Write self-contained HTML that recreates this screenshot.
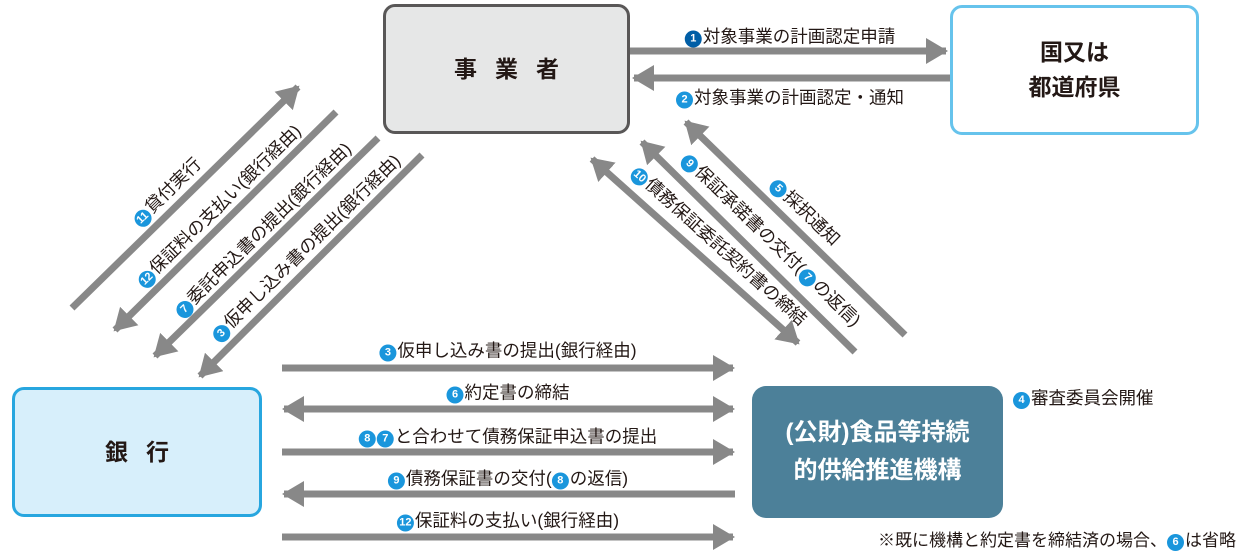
<!DOCTYPE html>
<html><head><meta charset="utf-8"><style>
body{margin:0;width:1256px;height:559px;background:#fff;position:relative;overflow:hidden;font-family:"Liberation Sans","Noto Sans CJK JP",sans-serif;color:#231815}
.box{position:absolute;box-sizing:border-box;border-radius:12px;display:flex;align-items:center;justify-content:center;text-align:center;font-weight:bold;font-size:23px;line-height:35px}
.lbl{position:absolute;font-size:17.5px;white-space:nowrap;line-height:20px}
.c{display:inline-block;width:17px;height:17px;border-radius:50%;background:#1a96dc;color:#fff;font-size:11px;line-height:17px;text-align:center;font-weight:bold;vertical-align:1px;margin-right:1px}
.r{transform:translate(-50%,-50%) rotate(-44.5deg)}
.rr{transform:translate(-50%,-50%) rotate(44deg)}
.h{transform:translate(-50%,-50%)}
</style></head><body>
<svg width="1256" height="559" style="position:absolute;left:0;top:0">
<defs>
<marker id="a" markerUnits="userSpaceOnUse" markerWidth="24" markerHeight="26" refX="20" refY="13" orient="auto-start-reverse"><path d="M0,0 L22,13 L0,26 Z" fill="#888"/></marker>
</defs>
<g stroke="#888" stroke-width="7" fill="none">
<line x1="630" y1="51" x2="946" y2="51" marker-end="url(#a)"/>
<line x1="950" y1="78" x2="634" y2="78" marker-end="url(#a)"/>
<line x1="72" y1="308" x2="298" y2="87" marker-end="url(#a)"/>
<line x1="336" y1="112" x2="115" y2="330" marker-end="url(#a)"/>
<line x1="378" y1="138" x2="155" y2="356" marker-end="url(#a)"/>
<line x1="422" y1="155" x2="200" y2="376" marker-end="url(#a)"/>
<line x1="905" y1="335" x2="686" y2="122" marker-end="url(#a)"/>
<line x1="855" y1="352" x2="642" y2="142" marker-end="url(#a)"/>
<line x1="592" y1="159" x2="798" y2="343" marker-start="url(#a)" marker-end="url(#a)"/>
<line x1="282" y1="368" x2="733" y2="368" marker-end="url(#a)"/>
<line x1="284" y1="409" x2="733" y2="409" marker-start="url(#a)" marker-end="url(#a)"/>
<line x1="282" y1="452" x2="733" y2="452" marker-end="url(#a)"/>
<line x1="735" y1="494" x2="284" y2="494" marker-end="url(#a)"/>
<line x1="282" y1="537" x2="733" y2="537" marker-end="url(#a)"/>
</g>
</svg>
<div class="box" style="left:383px;top:4px;width:247px;height:130px;background:#e6e7e7;border:3px solid #595757;letter-spacing:18px;padding-left:18px">事業者</div>
<div class="box" style="left:950px;top:5px;width:249px;height:130px;background:#fff;border:3px solid #66c3ec">国又は<br>都道府県</div>
<div class="box" style="left:12px;top:387px;width:250px;height:130px;background:#d7effb;border:3px solid #27a6df;letter-spacing:18px;padding-left:18px">銀行</div>
<div class="box" style="left:752px;top:386px;width:251px;height:132px;background:#4c8099;color:#fff;border-radius:14px;font-size:24px;line-height:38px">(公財)食品等持続<br>的供給推進機構</div>

<div class="lbl h" style="left:790px;top:37px"><span class="c" style="background:#005ea6">1</span>対象事業の計画認定申請</div>
<div class="lbl h" style="left:790px;top:98px"><span class="c">2</span>対象事業の計画認定・通知</div>

<div class="lbl r" style="left:167px;top:192px"><span class="c">11</span>貸付実行</div>
<div class="lbl r" style="left:219px;top:206px"><span class="c">12</span>保証料の支払い(銀行経由)</div>
<div class="lbl r" style="left:263px;top:230px"><span class="c">7</span>委託申込書の提出(銀行経由)</div>
<div class="lbl r" style="left:306px;top:248px"><span class="c">3</span>仮申し込み書の提出(銀行経由)</div>

<div class="lbl rr" style="left:805px;top:212px"><span class="c">5</span>採択通知</div>
<div class="lbl rr" style="left:771px;top:240px"><span class="c">9</span>保証承諾書の交付(<span class="c">7</span>の返信)</div>
<div class="lbl" style="left:719px;top:246px;transform:translate(-50%,-50%) rotate(42deg)"><span class="c">10</span>債務保証委託契約書の締結</div>

<div class="lbl h" style="left:508px;top:351px"><span class="c">3</span>仮申し込み書の提出(銀行経由)</div>
<div class="lbl h" style="left:508px;top:393px"><span class="c">6</span>約定書の締結</div>
<div class="lbl h" style="left:508px;top:437px"><span class="c">8</span><span class="c">7</span>と合わせて債務保証申込書の提出</div>
<div class="lbl h" style="left:508px;top:479px"><span class="c">9</span>債務保証書の交付(<span class="c">8</span>の返信)</div>
<div class="lbl h" style="left:508px;top:521px"><span class="c">12</span>保証料の支払い(銀行経由)</div>

<div class="lbl" style="left:1013px;top:388px"><span class="c">4</span>審査委員会開催</div>
<div class="lbl" style="left:878px;top:531px;font-size:17px">※既に機構と約定書を締結済の場合、<span class="c">6</span>は省略</div>
</body></html>
